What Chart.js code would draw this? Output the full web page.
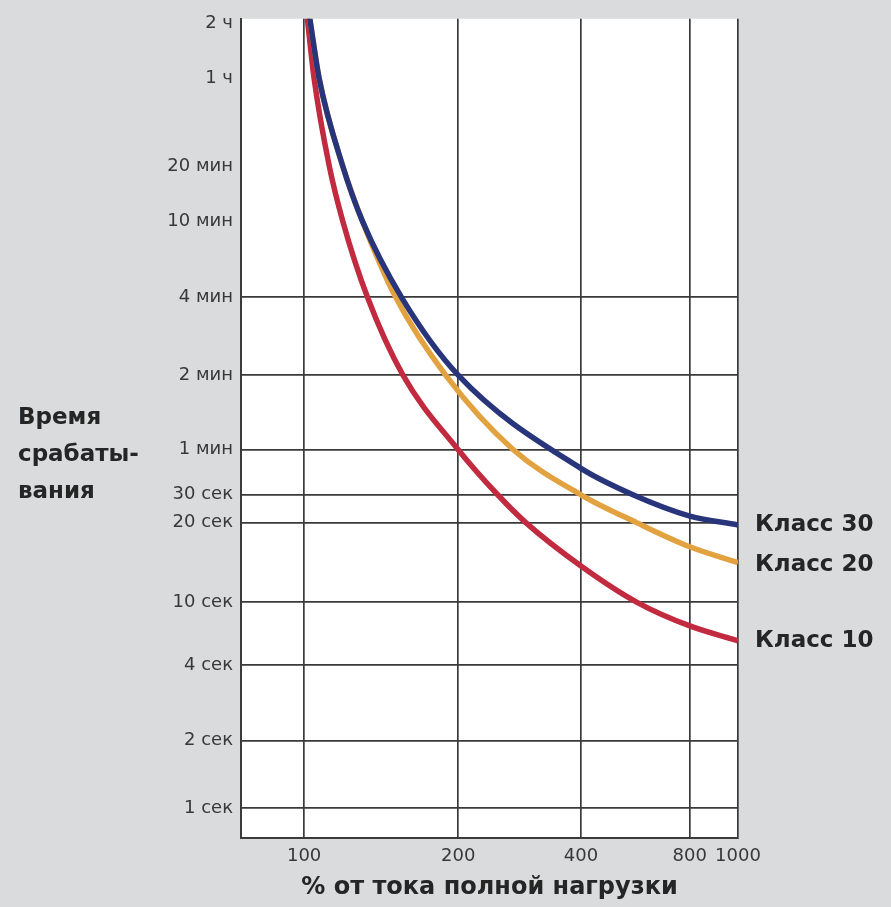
<!DOCTYPE html>
<html>
<head>
<meta charset="utf-8">
<script src="https://cdn.jsdelivr.net/npm/chart.js@4.4.1/dist/chart.umd.min.js"></script>
<style>
  html, body { margin: 0; padding: 0; background: #d9dbdc; }
  canvas { display: block; }
</style>
</head>
<body>
<canvas id="c" width="891" height="907"></canvas>
<script>
// ---- data ----
const xTickValues = [100, 200, 400, 800, 1000];               // % of full-load current
const yTickValues = [1, 2, 4, 10, 20, 30, 60, 120, 240, 600, 1200, 3600, 7200]; // seconds
const yTickLabels = ["1 сек", "2 сек", "4 сек", "10 сек", "20 сек", "30 сек",
                     "1 мин", "2 мин", "4 мин", "10 мин", "20 мин", "1 ч", "2 ч"];
const yTitleLines = ["Время", "срабаты-", "вания"];
const xTitle = "% от тока полной нагрузки";
const seriesNames = ["Класс 30", "Класс 20", "Класс 10"];

const class30Load = [102.5, 107, 119, 130, 155, 200, 400, 557, 800, 1000];
const class30Time = [7800, 3600, 1200, 600, 240, 120, 45, 30, 22, 19.6];

const class20Load = [102.5, 107, 119, 130, 151, 189, 273, 400, 570, 800, 1000];
const class20Time = [7800, 3600, 1200, 600, 240, 120, 60, 30, 20, 16.2, 14.1];

const class10Load = [101.4, 104.6, 112, 119, 133, 156, 200, 250, 293, 400, 570, 800, 1000];
const class10Time = [7800, 3600, 1200, 600, 240, 120, 60, 30, 20, 13.7, 10, 7.07, 5.7];

// ---- axis geometry of the original (non-uniform, hand-drawn log grid) ----
// share of the axis length at which each tick sits, measured from the axis start
const xTickShare = [0.127, 0.437, 0.684, 0.903, 1.0];
const yTickShare = [0.0365, 0.119, 0.211, 0.288, 0.385, 0.419, 0.474, 0.565, 0.660, 0.753, 0.820, 0.927, 0.994];

// Logarithmic scale whose decades follow the original drawing's tick spacing
class AnchoredLogScale extends Chart.LogarithmicScale {
  _anchors() {
    return this.axis === 'x'
      ? { v: xTickValues, s: xTickShare }
      : { v: yTickValues, s: yTickShare };
  }
  _share(value) {
    const { v, s } = this._anchors();
    const L = Math.log10(value);
    let i = 0;
    while (i < v.length - 2 && L > Math.log10(v[i + 1])) i++;
    const l0 = Math.log10(v[i]), l1 = Math.log10(v[i + 1]);
    return s[i] + (L - l0) / (l1 - l0) * (s[i + 1] - s[i]);
  }
  getPixelForValue(value) {
    if (value === undefined || value === null || isNaN(value) || value <= 0) return NaN;
    return this.getPixelForDecimal(this._share(value));
  }
  getValueForPixel(pixel) {
    const d = this.getDecimalForPixel(pixel);
    const { v, s } = this._anchors();
    let i = 0;
    while (i < s.length - 2 && d > s[i + 1]) i++;
    const l0 = Math.log10(v[i]), l1 = Math.log10(v[i + 1]);
    return Math.pow(10, l0 + (d - s[i]) / (s[i + 1] - s[i]) * (l1 - l0));
  }
}
AnchoredLogScale.id = 'anchoredLog';
AnchoredLogScale.defaults = Chart.LogarithmicScale.defaults;
Chart.register(AnchoredLogScale);

// ---- helpers ----
function pts(xs, ys) { return xs.map((x, i) => ({ x: x, y: ys[i] })); }
const GRID = '#3a3a3a';
const FONT = '"DejaVu Sans", Verdana, sans-serif';

const whiteArea = {
  id: 'whiteArea',
  beforeDraw(chart) {
    const { ctx, chartArea: a } = chart;
    ctx.save();
    ctx.fillStyle = '#ffffff';
    ctx.fillRect(a.left, a.top, a.right - a.left, a.bottom - a.top);
    ctx.restore();
  }
};

const endLabels = {
  id: 'endLabels',
  afterDatasetsDraw(chart) {
    const ctx = chart.ctx;
    ctx.save();
    ctx.font = 'bold 23px ' + FONT;
    ctx.fillStyle = '#252525';
    ctx.textBaseline = 'middle';
    ctx.textAlign = 'left';
    let prev = -Infinity;
    chart.data.datasets.forEach((ds, i) => {
      const meta = chart.getDatasetMeta(i);
      const p = meta.data[meta.data.length - 1];
      const y = Math.max(p.y, prev + 40);
      prev = y;
      ctx.fillText(ds.label, chart.chartArea.right + 17, y);
    });
    ctx.restore();
  }
};

const yTitle = {
  id: 'yTitle',
  afterDraw(chart) {
    const ctx = chart.ctx;
    ctx.save();
    ctx.font = 'bold 23px ' + FONT;
    ctx.fillStyle = '#252525';
    ctx.textBaseline = 'alphabetic';
    ctx.textAlign = 'left';
    yTitleLines.forEach((t, i) => ctx.fillText(t, 18, 424 + i * 37));
    ctx.restore();
  }
};

new Chart(document.getElementById('c'), {
  type: 'line',
  data: {
    datasets: [
      { label: seriesNames[0], data: pts(class30Load, class30Time), borderColor: '#28357a' },
      { label: seriesNames[1], data: pts(class20Load, class20Time), borderColor: '#e2a23f' },
      { label: seriesNames[2], data: pts(class10Load, class10Time), borderColor: '#c22a40' }
    ]
  },
  options: {
    responsive: false,
    animation: false,
    devicePixelRatio: 1,
    layout: { padding: { left: 0, right: 153, top: 15, bottom: 0 } },
    elements: {
      line: { borderWidth: 5.5, cubicInterpolationMode: 'monotone', fill: false, borderCapStyle: 'butt' },
      point: { radius: 0, hoverRadius: 0 }
    },
    plugins: { legend: { display: false }, tooltip: { enabled: false } },
    scales: {
      x: {
        type: 'anchoredLog',
        min: 75,
        max: 1000,
        afterBuildTicks: (axis) => { axis.ticks = xTickValues.map(v => ({ value: v })); },
        afterFit: (axis) => { axis.height = 69; },
        ticks: {
          autoSkip: false,
          maxRotation: 0,
          padding: 8,
          color: '#383838',
          font: { family: FONT, size: 18 },
          callback: (v) => String(v)
        },
        grid: { color: GRID, lineWidth: 1.7, drawTicks: false },
        border: { display: true, color: GRID, width: 2 },
        title: {
          display: true,
          text: xTitle,
          color: '#252525',
          font: { family: FONT, size: 24, weight: 'bold' },
          padding: { top: 0, bottom: 5 }
        }
      },
      y: {
        type: 'anchoredLog',
        min: 0.7,
        max: 7700,
        afterBuildTicks: (axis) => { axis.ticks = yTickValues.map(v => ({ value: v })); },
        afterFit: (axis) => { axis.width = 241; },
        ticks: {
          autoSkip: false,
          padding: 8,
          color: '#383838',
          font: { family: FONT, size: 18 },
          callback: (v) => { const i = yTickValues.indexOf(v); return i >= 0 ? yTickLabels[i] : ''; }
        },
        grid: {
          lineWidth: 1.7,
          drawTicks: false,
          color: (c) => (c.tick && c.tick.value <= 240 ? GRID : 'rgba(0,0,0,0)')
        },
        border: { display: true, color: GRID, width: 2 }
      }
    }
  },
  plugins: [whiteArea, endLabels, yTitle]
});
</script>
</body>
</html>
